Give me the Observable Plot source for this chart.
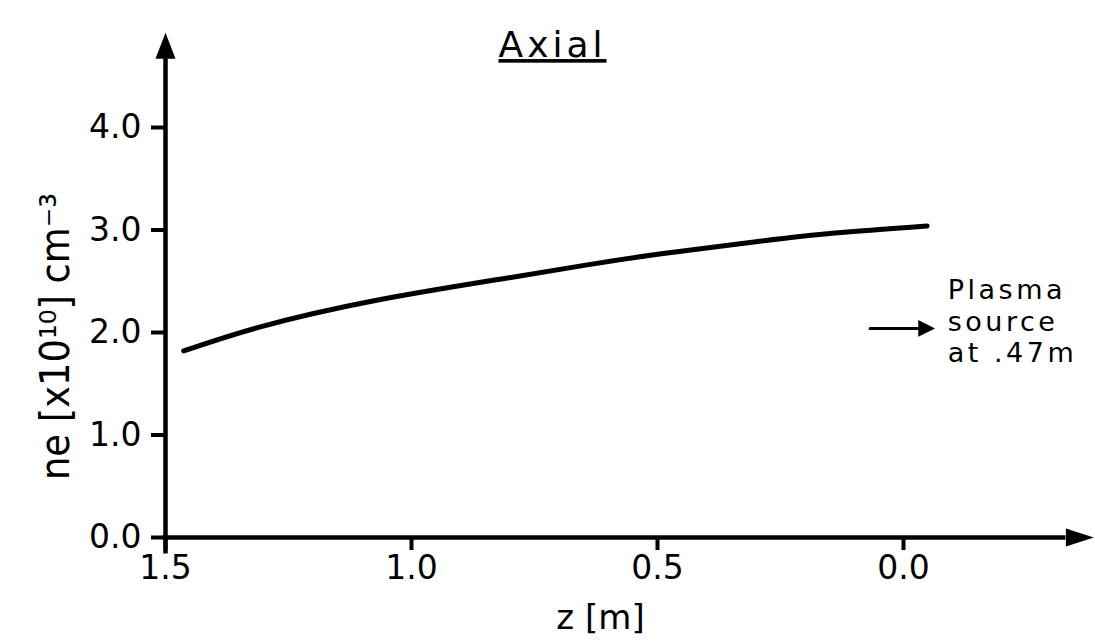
<!DOCTYPE html>
<html><head><meta charset="utf-8">
<script src="https://cdn.jsdelivr.net/npm/d3@7"></script>
<script src="https://cdn.jsdelivr.net/npm/@observablehq/plot@0.6"></script>
<style>
html,body{margin:0;padding:0;background:#fff;}
</style></head><body><div id="chart"></div>
<script>
// Axial electron density profile
const zPos  = [1.463, 1.311, 1.076, 0.801, 0.649, 0.496, 0.292, 0.140, -0.048];
const neVal = [1.82, 2.05, 2.31, 2.535, 2.655, 2.765, 2.89, 2.97, 3.04];
const xTicks = [1.5, 1.0, 0.5, 0.0];
const yTicks = [0, 1, 2, 3, 4];
const xAxisExtent = [1.5, -0.33];
const yAxisExtent = [-0.16, 4.67];
const sourceArrowZ = [0.068, -0.03];
const sourceArrowNe = [2.04, 2.04];
const sourceText = "Plasma\nsource\nat .47m";
const sourceTextZ = [-0.09];
const titleText = "Axial";
const xLabel = "z [m]";
const yLabel = "ne [x10¹⁰] cm⁻³";

const curve = zPos.map((z, i) => ({z, ne: neVal[i]}));
const srcArrow = sourceArrowZ.map((z, i) => ({z, ne: sourceArrowNe[i]}));

function arrowHead(hr, wr) {
  return {draw(ctx, size) {
    const r = Math.sqrt(size / Math.PI);
    const h = r * hr, w = r * wr;
    ctx.moveTo(0, -h); ctx.lineTo(w / 2, 0); ctx.lineTo(-w / 2, 0); ctx.closePath();
  }};
}
const fmt = d3.format(".1f");
const FONT = "'DejaVu Sans', sans-serif";

const chart = Plot.plot({
  width: 1095, height: 644,
  marginLeft: 165, marginRight: 192, marginTop: 127, marginBottom: 107,
  x: {domain: [1.5, 0]},
  y: {domain: [0, 4]},
  style: {fontFamily: FONT, color: "black", background: "white"},
  marks: [
    Plot.ruleX([xAxisExtent[0]], {y1: yAxisExtent[0], y2: yAxisExtent[1], strokeWidth: 4.5}),
    Plot.ruleY([0], {x1: xAxisExtent[0] + 0.005, x2: xAxisExtent[1], strokeWidth: 4.5}),
    Plot.dot([{z: xAxisExtent[0], ne: yAxisExtent[1]}], {x: "z", y: "ne", symbol: arrowHead(2.6, 2.0), r: 10, fill: "black", stroke: null}),
    Plot.dot([{z: xAxisExtent[1], ne: 0}], {x: "z", y: "ne", symbol: arrowHead(2.8, 1.8), r: 10, rotate: 90, fill: "black", stroke: null}),
    Plot.axisX(xTicks, {tickSize: 13, tickPadding: 5, tickFormat: fmt, fontSize: 33, strokeWidth: 4, label: null}),
    Plot.axisY(yTicks, {tickSize: 14, tickPadding: 10, tickFormat: fmt, fontSize: 33, strokeWidth: 4, label: null}),
    Plot.line(curve, {x: "z", y: "ne", curve: "natural", strokeWidth: 5, stroke: "black"}),
    Plot.line(srcArrow, {x: "z", y: "ne", strokeWidth: 3, stroke: "black"}),
    Plot.dot([srcArrow[1]], {x: "z", y: "ne", symbol: arrowHead(2.4, 2.4), r: 7, rotate: 90, fill: "black", stroke: null}),
    Plot.text([{z: sourceTextZ[0], ne: sourceArrowNe[0], t: sourceText}], {x: "z", y: "ne", text: "t", textAnchor: "start", lineAnchor: "middle", lineHeight: 1.18, fontSize: 27, dy: -8}),
    Plot.text([titleText], {frameAnchor: "top", textAnchor: "middle", dx: 18, dy: -96, fontSize: 36}),
    Plot.text([xLabel], {frameAnchor: "bottom", textAnchor: "middle", dx: 66, dy: 91, fontSize: 34}),
    Plot.text([yLabel], {frameAnchor: "left", textAnchor: "middle", lineAnchor: "middle", rotate: -90, dx: -110, dy: 4, fontSize: 41, fontFamily: "'DejaVu Sans Condensed', 'DejaVu Sans', sans-serif"})
  ]
});
document.getElementById("chart").appendChild(chart);

d3.select(chart).selectAll("text").each(function() {
  if (this.textContent === titleText) {
    d3.select(this).style("text-decoration", "underline")
      .style("text-decoration-thickness", "4px")
      .style("text-underline-offset", "8px")
      .style("letter-spacing", "4px");
  }
});
d3.select(chart).selectAll("text").filter(function() { return this.textContent.startsWith("Plasma"); })
  .style("letter-spacing", "3.5px");
</script></body></html>
